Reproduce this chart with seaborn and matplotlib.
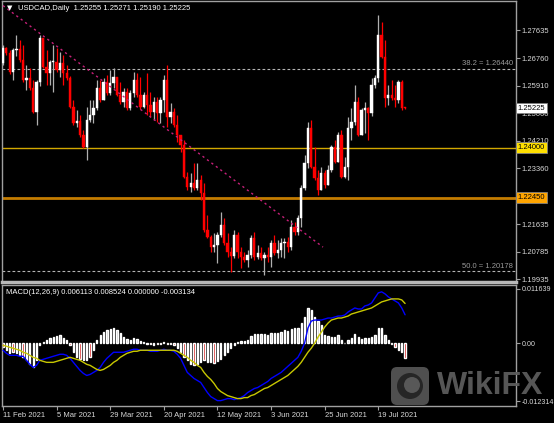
import numpy as np
import pandas as pd
import seaborn as sns
import matplotlib.pyplot as plt
from matplotlib.patches import FancyBboxPatch, Circle
from matplotlib.transforms import blended_transform_factory

# USDCAD daily, 11 Feb 2021 .. 29 Jul 2021
open_ = [1.2662,1.2708,1.2693,1.2634,1.2702,1.2705,1.2671,1.2609,1.2615,1.2584,
         1.2510,1.2603,1.2739,1.2649,1.2631,1.2665,1.2665,1.2640,1.2662,1.2631,
         1.2615,1.2526,1.2476,1.2482,1.2439,1.2402,1.2486,1.2501,1.2523,1.2584,
         1.2547,1.2603,1.2569,1.2600,1.2618,1.2563,1.2541,1.2572,1.2523,1.2569,
         1.2609,1.2563,1.2526,1.2563,1.2532,1.2510,1.2541,1.2507,1.2547,1.2609,
         1.2495,1.2510,1.2470,1.2439,1.2408,1.2310,1.2279,1.2291,1.2276,1.2300,
         1.2260,1.2146,1.2124,1.2093,1.2099,1.2130,1.2161,1.2106,1.2078,1.2065,
         1.2130,1.2078,1.2062,1.2053,1.2069,1.2121,1.2062,1.2075,1.2059,1.2069,
         1.2062,1.2106,1.2075,1.2084,1.2106,1.2109,1.2093,1.2155,1.2140,1.2183,
         1.2276,1.2353,1.2461,1.2340,1.2306,1.2269,1.2322,1.2285,1.2331,1.2402,
         1.2356,1.2439,1.2310,1.2340,1.2461,1.2479,1.2541,1.2439,1.2516,1.2523,
         1.2507,1.2594,1.2615,1.2748,1.2680,1.2554,1.2563,1.2554,1.2547,1.2603,
         1.25255]
close = [1.2708,1.2693,1.2634,1.2702,1.2705,1.2671,1.2609,1.2615,1.2584,1.2510,
         1.2603,1.2739,1.2649,1.2631,1.2665,1.2665,1.2640,1.2662,1.2631,1.2615,
         1.2526,1.2476,1.2482,1.2439,1.2402,1.2486,1.2501,1.2523,1.2584,1.2547,
         1.2603,1.2569,1.2600,1.2618,1.2563,1.2541,1.2572,1.2523,1.2569,1.2609,
         1.2563,1.2526,1.2563,1.2532,1.2510,1.2541,1.2507,1.2547,1.2609,1.2495,
         1.2510,1.2470,1.2439,1.2408,1.2310,1.2279,1.2291,1.2276,1.2300,1.2260,
         1.2146,1.2124,1.2093,1.2099,1.2130,1.2161,1.2106,1.2078,1.2065,1.2130,
         1.2078,1.2062,1.2053,1.2069,1.2121,1.2062,1.2075,1.2059,1.2069,1.2062,
         1.2106,1.2075,1.2084,1.2106,1.2109,1.2093,1.2155,1.2140,1.2183,1.2276,
         1.2353,1.2461,1.2340,1.2306,1.2269,1.2322,1.2285,1.2331,1.2402,1.2356,
         1.2439,1.2310,1.2340,1.2461,1.2479,1.2541,1.2439,1.2516,1.2523,1.2507,
         1.2594,1.2615,1.2748,1.2680,1.2554,1.2563,1.2554,1.2547,1.2603,1.2523,
         1.25225]
high = [1.2717,1.2711,1.2702,1.2708,1.2748,1.2733,1.2717,1.2655,1.2646,1.2609,
        1.2609,1.2748,1.2733,1.2702,1.2671,1.2717,1.2708,1.2696,1.2686,1.2655,
        1.2621,1.2547,1.2516,1.2501,1.2455,1.2526,1.2547,1.2547,1.2609,1.2609,
        1.2615,1.2625,1.2640,1.2646,1.2615,1.2603,1.2584,1.2584,1.2578,1.2634,
        1.2631,1.2618,1.2572,1.2631,1.2572,1.2557,1.2557,1.2557,1.2625,1.2655,
        1.2538,1.2523,1.2501,1.2430,1.2424,1.2325,1.2322,1.2353,1.2353,1.2316,
        1.2291,1.2192,1.2130,1.2137,1.2140,1.2201,1.2183,1.2137,1.2093,1.2146,
        1.2140,1.2093,1.2078,1.2084,1.2130,1.2140,1.2099,1.2093,1.2078,1.2093,
        1.2115,1.2130,1.2115,1.2121,1.2121,1.2124,1.2177,1.2170,1.2192,1.2285,
        1.2377,1.2479,1.2486,1.2402,1.2331,1.2340,1.2331,1.2347,1.2408,1.2424,
        1.2448,1.2455,1.2371,1.2495,1.2523,1.2594,1.2557,1.2523,1.2541,1.2526,
        1.2615,1.2625,1.2810,1.2788,1.2733,1.2594,1.2609,1.2594,1.2609,1.2609,
        1.25271]
low = [1.2655,1.2686,1.2628,1.2609,1.2683,1.2665,1.2603,1.2578,1.2578,1.2507,
       1.2470,1.2591,1.2646,1.2594,1.2594,1.2572,1.2634,1.2618,1.2594,1.2609,
       1.2523,1.2470,1.2464,1.2433,1.2399,1.2362,1.2479,1.2476,1.2516,1.2541,
       1.2563,1.2563,1.2563,1.2584,1.2560,1.2535,1.2526,1.2516,1.2516,1.2557,
       1.2557,1.2520,1.2523,1.2501,1.2495,1.2486,1.2479,1.2476,1.2510,1.2464,
       1.2476,1.2464,1.2418,1.2387,1.2306,1.2269,1.2263,1.2269,1.2269,1.2238,
       1.2140,1.2121,1.2078,1.2078,1.2044,1.2124,1.2099,1.2062,1.2016,1.2059,
       1.2059,1.2028,1.2047,1.2031,1.2059,1.2053,1.2056,1.2053,1.2007,1.2047,
       1.2031,1.2069,1.2059,1.2062,1.2059,1.2078,1.2084,1.2130,1.2130,1.2155,
       1.2269,1.2337,1.2337,1.2300,1.2254,1.2285,1.2276,1.2285,1.2325,1.2353,
       1.2387,1.2306,1.2306,1.2300,1.2424,1.2470,1.2436,1.2439,1.2445,1.2424,
       1.2498,1.2584,1.2603,1.2677,1.2526,1.2532,1.2547,1.2526,1.2538,1.2516,
       1.25190]

macd_main = [-0.00146,-0.00211,-0.00254,-0.00254,-0.00254,-0.00275,-0.00275,-0.00361,-0.00447,-0.00512,
             -0.00469,-0.00361,-0.00340,-0.00318,-0.00297,-0.00275,-0.00254,-0.00232,-0.00232,-0.00254,
             -0.00318,-0.00404,-0.00490,-0.00576,-0.00641,-0.00684,-0.00662,-0.00619,-0.00576,-0.00512,
             -0.00404,-0.00318,-0.00254,-0.00189,-0.00189,-0.00189,-0.00189,-0.00168,-0.00146,-0.00125,
             -0.00125,-0.00146,-0.00146,-0.00146,-0.00168,-0.00168,-0.00168,-0.00146,-0.00125,-0.00146,
             -0.00146,-0.00168,-0.00232,-0.00318,-0.00469,-0.00619,-0.00684,-0.00748,-0.00791,-0.00834,
             -0.00942,-0.01049,-0.01135,-0.01178,-0.01221,-0.01221,-0.01200,-0.01178,-0.01178,-0.01200,
             -0.01178,-0.01157,-0.01114,-0.01049,-0.01006,-0.00963,-0.00942,-0.00899,-0.00856,-0.00813,
             -0.00748,-0.00705,-0.00662,-0.00619,-0.00555,-0.00490,-0.00426,-0.00361,-0.00297,-0.00168,
             0.00004,0.00327,0.00477,0.00499,0.00499,0.00499,0.00520,0.00542,0.00542,0.00563,
             0.00585,0.00585,0.00606,0.00671,0.00714,0.00757,0.00735,0.00735,0.00800,0.00821,
             0.00864,0.00972,0.01079,0.01101,0.01058,0.00993,0.00950,0.00907,0.00864,0.00757,
             0.006113]
macd_signal = [-0.00039,-0.00060,-0.00082,-0.00103,-0.00125,-0.00146,-0.00189,-0.00211,-0.00254,-0.00297,
               -0.00318,-0.00361,-0.00383,-0.00404,-0.00404,-0.00404,-0.00383,-0.00361,-0.00340,-0.00318,
               -0.00297,-0.00318,-0.00340,-0.00361,-0.00404,-0.00447,-0.00469,-0.00512,-0.00555,-0.00576,
               -0.00555,-0.00512,-0.00469,-0.00404,-0.00361,-0.00297,-0.00254,-0.00211,-0.00189,-0.00168,
               -0.00168,-0.00146,-0.00146,-0.00146,-0.00146,-0.00146,-0.00146,-0.00146,-0.00146,-0.00146,
               -0.00146,-0.00146,-0.00168,-0.00211,-0.00254,-0.00297,-0.00361,-0.00404,-0.00469,-0.00512,
               -0.00619,-0.00705,-0.00770,-0.00856,-0.00963,-0.01028,-0.01071,-0.01114,-0.01135,-0.01157,
               -0.01178,-0.01178,-0.01157,-0.01157,-0.01114,-0.01092,-0.01049,-0.01006,-0.00963,-0.00942,
               -0.00899,-0.00856,-0.00813,-0.00770,-0.00727,-0.00684,-0.00619,-0.00555,-0.00490,-0.00404,
               -0.00297,-0.00189,-0.00103,0.00004,0.00133,0.00241,0.00348,0.00434,0.00499,0.00520,
               0.00542,0.00542,0.00563,0.00585,0.00628,0.00649,0.00671,0.00692,0.00714,0.00735,
               0.00757,0.00800,0.00843,0.00886,0.00907,0.00929,0.00950,0.00950,0.00950,0.00929,
               0.008524]
macd_hist = [-0.00071,-0.00144,-0.00215,-0.00178,-0.00215,-0.00252,-0.00286,-0.00359,-0.00430,-0.00501,
             -0.00359,-0.00037,0.00022,0.00071,0.00108,0.00144,0.00157,0.00178,0.00123,0.00071,
             -0.00037,-0.00178,-0.00286,-0.00323,-0.00359,-0.00359,-0.00286,-0.00144,0.00071,0.00178,
             0.00252,0.00286,0.00307,0.00338,0.00286,0.00215,0.00144,0.00092,0.00071,0.00108,
             0.00086,0.00049,0.00037,-0.00011,-0.00022,-0.00037,-0.00022,-0.00022,0.00037,-0.00022,
             -0.00006,-0.00037,-0.00108,-0.00178,-0.00286,-0.00359,-0.00430,-0.00467,-0.00430,-0.00393,
             -0.00359,-0.00393,-0.00393,-0.00409,-0.00381,-0.00323,-0.00252,-0.00178,-0.00108,-0.00037,
             0.00022,0.00049,0.00049,0.00071,0.00166,0.00194,0.00194,0.00194,0.00194,0.00178,
             0.00215,0.00215,0.00215,0.00252,0.00286,0.00273,0.00307,0.00323,0.00323,0.00430,
             0.00574,0.00753,0.00716,0.00574,0.00479,0.00393,0.00178,0.00157,0.00144,0.00144,
             0.00178,0.00071,0.00000,0.00071,0.00123,0.00194,0.00144,0.00086,0.00108,0.00108,
             0.00144,0.00178,0.00323,0.00338,0.00178,0.00071,-0.00006,-0.00071,-0.00144,-0.00178,
             -0.003134]

price_ticks = [1.27635, 1.26760, 1.25910, 1.25060, 1.24210, 1.23360, 1.22510, 1.21635, 1.20785, 1.19935]
macd_ticks = [0.011639, 0.0, -0.012314]
fib_levels = [1.26440, 1.20178]
fib_names = ["38.2", "50.0"]
support_levels = [1.24000, 1.22450]
trend_bar = [0, 95.5]
trend_price = [1.2839, 1.2093]
last_price = 1.25225

close = np.array(close); open_ = np.array(open_)
high = np.maximum(np.array(high), np.maximum(open_, close))
low = np.minimum(np.array(low), np.minimum(open_, close))
hist = np.array(macd_hist)
dates = pd.bdate_range("2021-02-11", periods=len(close))
idx = np.arange(len(close))

sns.set_theme(style="dark", rc={"axes.facecolor": "black", "figure.facecolor": "black"})
plt.rcParams["font.family"] = ["Liberation Sans", "DejaVu Sans"]
fs = 5.5
grey = "#a0a0a0"

fig = plt.figure(figsize=(5.54, 4.23), dpi=100)
ax = fig.add_axes([2/554, 141/423, 514/554, 281/423])
axm = fig.add_axes([2/554, 17/423, 514/554, 121/423])
for a in (ax, axm):
    a.set_facecolor("black")
    a.set_xlim(-0.3, 153.1)
    for s in a.spines.values():
        s.set_color(grey)
        s.set_linewidth(1)
    a.yaxis.tick_right()
    a.tick_params(axis="y", colors=grey, labelcolor="#d8d8d8", labelsize=fs, length=3, width=0.8,
                  pad=1.2, direction="out", right=True, left=False)
    a.grid(False)
ax.spines["bottom"].set_linewidth(2.5)
ax.spines["bottom"].set_color("#b8b8b8")
ax.set_ylim(1.19852, 1.28532)
axm.set_ylim(-0.01336, 0.01247)
axm.tick_params(axis="y", labelsize=5.15, pad=1.0)

# candles
up = close >= open_
wick_c = np.where(up, "#b0b0b0", "#ff0000")
body_c = np.where(up, "#ffffff", "#ff0000")
ax.vlines(idx, low, high, colors=wick_c, lw=0.9, zorder=3)
bh = np.maximum(np.abs(close - open_), 0.00025)
ax.bar(idx, bh, bottom=np.minimum(open_, close), width=0.68, color=body_c, edgecolor=body_c, lw=0.3, zorder=4)

# levels and trend line
ax.axhline(support_levels[0], color="#d2a800", lw=1.0, zorder=2)
ax.axhline(support_levels[1], color="#c47c00", lw=2.0, zorder=2)
tr = blended_transform_factory(ax.transAxes, ax.transData)
for lev, name in zip(fib_levels, fib_names):
    ax.axhline(lev, color="#b4b4b4", lw=0.8, ls=(0, (2.5, 2)), zorder=2)
    ax.text(0.994, lev + 0.0006, "%s = %.5f" % (name, lev), transform=tr, ha="right", va="bottom",
            color="#9a9a9a", fontsize=fs)
ax.plot(trend_bar, trend_price, color="#c8207a", lw=1.0, ls=(0, (1.6, 2.4)), zorder=5)

ax.set_yticks(price_ticks)
ax.set_yticklabels(["" if abs(t - support_levels[1]) < 0.0008 else "%.5f" % t for t in price_ticks])
ax.set_xticks([])
for lev, bg in [(last_price, "white"), (support_levels[0], "#ffe000"), (support_levels[1], "#ffa500")]:
    ax.text(1.003, lev, "%.5f" % lev, transform=tr, ha="left", va="center", color="black", fontsize=fs,
            clip_on=False, bbox=dict(boxstyle="square,pad=0.25", fc=bg, ec="#808080", lw=0.6), zorder=10)

# macd
cols = np.where(hist >= 0, "#c8c8c8", "#d00000")
axm.bar(idx, hist, width=0.38, color=cols, zorder=2)
sns.lineplot(x=idx, y=macd_main, ax=axm, color="#0000ff", lw=1.0, zorder=3)
sns.lineplot(x=idx, y=macd_signal, ax=axm, color="#c8c800", lw=1.0, zorder=3)
axm.set_yticks(macd_ticks)
axm.set_yticklabels(["0.011639", "0.00", "-0.012314"])
ticks = idx[::16]
axm.set_xticks(ticks)
axm.set_xticklabels([f"{d.day} {d:%b %Y}" for d in dates[ticks]], ha="left")
axm.tick_params(axis="x", colors=grey, labelcolor="#d8d8d8", labelsize=fs, length=3, width=0.8,
                pad=1.5, direction="out", bottom=True)
axm.set_xlabel("")
axm.set_ylabel("")

fig.text(7/554, 1 - 8/423, "▼", color="white", fontsize=5, va="center", family="DejaVu Sans")
fig.text(18/554, 1 - 8/423, "USDCAD,Daily  1.25255 1.25271 1.25190 1.25225", color="white", fontsize=fs, va="center")
fig.text(6/554, 1 - 292/423, "MACD(12,26,9) 0.006113 0.008524 0.000000 -0.003134", color="white", fontsize=fs, va="center")

# watermark
pt = fig.dpi_scale_trans
fig.patches.append(FancyBboxPatch((3.93, 0.20), 0.34, 0.34, boxstyle="round,pad=0.02,rounding_size=0.06",
                                  fc="#585858", ec="none", transform=pt, alpha=0.9, zorder=20))
fig.patches.append(Circle((4.10, 0.37), 0.13, fc="#262626", ec="none", transform=pt, zorder=21))
fig.patches.append(Circle((4.12, 0.38), 0.08, fc="#585858", ec="none", transform=pt, zorder=22))
fig.text(4.37/5.54, 29/423, "WikiFX", color="#5c5c5c", fontsize=23, fontweight="bold",
         ha="left", va="baseline", alpha=0.95, zorder=20)

fig.savefig("out.png", dpi=100, facecolor="black")
